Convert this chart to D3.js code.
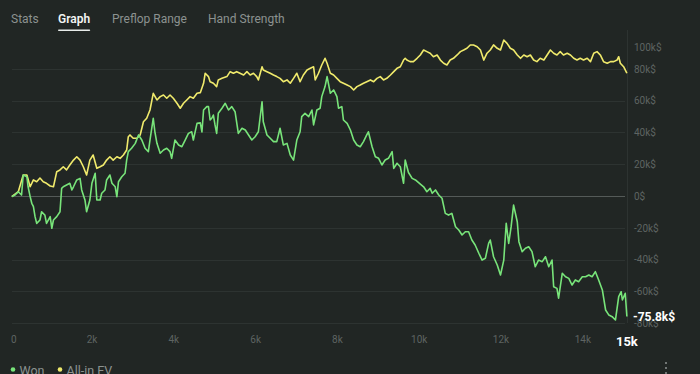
<!DOCTYPE html>
<html>
<head>
<meta charset="utf-8">
<script src="https://cdn.jsdelivr.net/npm/d3@7"></script>
<style>
  html, body { margin: 0; padding: 0; background: #212624; }
  svg { display: block; }
</style>
</head>
<body>
<svg id="chart" width="700" height="374"></svg>
<script>
// ---- data (hands in thousands, amounts in k$) ----
const tabs = ["Stats", "Graph", "Preflop Range", "Hand Strength"];
const activeTab = "Graph";
const xTicks = [0, 2, 4, 6, 8, 10, 12, 14];
const xTickLabels = ["0", "2k", "4k", "6k", "8k", "10k", "12k", "14k"];
const lastHandLabel = "15k";
const yTicks = [-80, -60, -40, -20, 0, 20, 40, 60, 80, 100];
const yTickLabels = ["-80k$", "-60k$", "-40k$", "-20k$", "0$", "20k$", "40k$", "60k$", "80k$", "100k$"];
const finalWonLabel = "-75.8k$";
const seriesNames = ["Won", "All-in EV"];

const evHands = [0.05,0.21,0.33,0.42,0.50,0.58,0.66,0.74,0.82,0.90,0.99,1.07,1.15,1.23,1.31,1.39,1.47,1.56,1.64,1.72,1.80,1.88,1.96,2.04,2.13,2.21,2.29,2.37,2.45,2.53,2.62,2.70,2.78,2.86,2.90,2.94,3.02,3.11,3.19,3.27,3.35,3.43,3.51,3.60,3.68,3.76,3.84,3.92,4.00,4.09,4.17,4.25,4.33,4.41,4.49,4.58,4.66,4.74,4.78,4.86,4.90,4.98,5.06,5.10,5.19,5.31,5.39,5.47,5.55,5.63,5.72,5.80,5.88,5.96,6.04,6.08,6.17,6.20,6.29,6.37,6.45,6.53,6.61,6.69,6.78,6.86,6.94,7.02,7.10,7.18,7.27,7.35,7.43,7.47,7.55,7.63,7.71,7.76,7.84,7.92,8.00,8.08,8.16,8.25,8.33,8.41,8.49,8.57,8.65,8.73,8.82,8.90,8.98,9.06,9.14,9.22,9.31,9.39,9.47,9.55,9.63,9.67,9.71,9.79,9.87,9.96,10.04,10.12,10.20,10.28,10.36,10.45,10.53,10.61,10.69,10.77,10.85,10.94,11.02,11.10,11.18,11.26,11.34,11.43,11.51,11.59,11.67,11.75,11.83,11.92,12.00,12.08,12.16,12.24,12.32,12.41,12.49,12.57,12.65,12.73,12.81,12.89,12.97,13.06,13.14,13.22,13.30,13.38,13.46,13.54,13.63,13.71,13.79,13.87,13.95,14.03,14.12,14.20,14.28,14.36,14.44,14.52,14.61,14.69,14.77,14.85,14.89,14.93,15.01,15.05,15.09];
const evValues = [-0.4,2.7,13.2,13.2,5.8,10.1,9.0,11.3,9.0,8.0,6.3,5.8,15.3,16.4,18.4,16.4,19.5,22.6,24.7,22.6,18.4,13.2,22.6,25.8,17.4,18.4,19.5,22.6,24.7,22.6,24.7,23.7,25.8,28.9,37.3,38.4,36.3,36.3,38.4,46.7,48.9,54.1,64.6,60.4,62.5,63.5,61.5,63.5,61.5,58.3,55.2,58.3,60.4,62.5,61.5,64.6,65.0,70.9,77.2,75.1,71.9,70.9,68.8,73.0,74.0,75.1,78.2,77.2,78.2,77.2,76.1,78.2,76.1,77.2,75.1,73.0,81.3,79.3,78.2,77.2,76.1,75.1,74.0,71.9,73.0,70.9,74.0,77.2,71.9,76.1,79.3,80.3,81.3,73.0,77.2,82.4,86.6,83.5,77.2,76.1,74.0,71.9,70.9,69.8,68.8,66.7,68.8,69.8,70.9,71.9,73.0,71.9,74.0,75.1,73.0,74.0,76.1,78.2,80.3,81.3,85.5,86.6,85.5,84.5,84.5,86.6,88.7,91.8,90.8,89.8,87.6,88.7,85.5,83.5,82.4,85.5,86.6,88.7,90.8,91.8,92.9,95.0,95.0,93.9,91.8,85.5,89.8,91.8,95.0,92.9,91.8,98.1,96.0,92.9,91.8,88.7,86.6,88.7,87.6,88.7,85.5,84.5,86.6,85.5,88.7,91.8,89.8,88.7,90.8,88.7,89.8,88.7,86.6,85.5,86.6,85.5,86.6,84.5,89.8,90.8,88.7,84.5,83.5,84.5,84.5,85.5,87.6,83.5,81.3,79.3,77.2];

const wonHands = [0.05,0.13,0.21,0.29,0.33,0.42,0.45,0.50,0.54,0.58,0.62,0.66,0.74,0.78,0.86,0.90,0.99,1.03,1.07,1.15,1.23,1.27,1.31,1.39,1.47,1.52,1.56,1.64,1.72,1.76,1.84,1.88,1.96,2.01,2.09,2.13,2.21,2.25,2.33,2.37,2.45,2.50,2.58,2.62,2.66,2.74,2.82,2.86,2.90,2.98,3.07,3.15,3.23,3.31,3.39,3.43,3.51,3.55,3.60,3.68,3.76,3.84,3.92,3.96,4.04,4.13,4.21,4.29,4.37,4.45,4.49,4.58,4.66,4.70,4.74,4.82,4.86,4.90,4.94,4.98,5.02,5.06,5.10,5.19,5.27,5.35,5.43,5.51,5.59,5.68,5.76,5.84,5.92,6.00,6.08,6.17,6.20,6.29,6.37,6.45,6.53,6.61,6.69,6.78,6.86,6.94,7.02,7.10,7.14,7.22,7.31,7.39,7.43,7.51,7.59,7.63,7.71,7.76,7.84,7.92,8.00,8.04,8.12,8.16,8.25,8.33,8.41,8.49,8.57,8.65,8.73,8.77,8.86,8.94,9.02,9.10,9.18,9.26,9.35,9.39,9.47,9.55,9.63,9.67,9.75,9.84,9.92,10.04,10.12,10.20,10.28,10.33,10.41,10.49,10.57,10.65,10.73,10.81,10.90,10.98,11.06,11.14,11.22,11.30,11.38,11.47,11.55,11.63,11.71,11.75,11.83,11.92,12.00,12.08,12.14,12.20,12.26,12.32,12.41,12.45,12.53,12.61,12.69,12.77,12.85,12.93,13.02,13.10,13.18,13.26,13.30,13.38,13.42,13.51,13.59,13.67,13.75,13.83,13.91,14.00,14.08,14.16,14.24,14.32,14.40,14.49,14.57,14.65,14.73,14.81,14.89,14.95,14.98,15.05,15.09];
const wonValues = [-0.4,0.6,2.7,0.6,13.2,12.1,5.8,-0.4,-4.6,-6.7,-13.0,-17.2,-15.1,-9.9,-12.0,-17.2,-13.0,-20.3,-15.1,-13.0,-9.9,4.8,5.8,6.9,8.0,3.8,5.8,10.1,11.1,3.8,-2.5,-9.9,-2.5,8.0,14.3,-2.5,-2.5,1.7,3.8,10.1,13.2,8.0,5.8,-0.4,9.0,12.1,14.3,22.6,27.9,30.0,33.1,38.4,35.2,30.0,27.9,35.2,48.9,40.4,33.1,26.9,28.9,30.0,27.9,23.7,35.2,32.1,31.0,35.2,39.4,40.4,35.2,45.7,46.0,40.3,54.1,56.2,56.2,47.8,48.9,50.9,44.7,39.4,52.0,55.2,58.3,54.1,56.2,53.0,39.4,42.6,41.5,38.4,35.2,37.3,40.4,59.3,46.7,38.4,36.3,34.2,34.2,42.6,32.1,33.1,25.8,22.6,35.2,40.4,49.9,52.0,49.9,54.1,44.7,54.1,55.2,62.5,68.8,75.1,64.6,66.7,62.5,55.2,56.2,47.8,45.7,41.5,35.2,32.1,31.0,34.2,38.4,40.4,31.0,24.7,23.7,19.5,22.6,23.7,27.9,17.4,20.6,18.4,8.0,22.6,14.8,11.1,10.1,7.5,5.8,2.7,4.8,1.7,3.8,0.6,-1.4,-10.9,-12.0,-10.9,-19.3,-21.4,-24.5,-22.5,-22.5,-27.7,-30.8,-36.0,-40.3,-39.2,-29.8,-27.7,-38.2,-43.4,-49.7,-40.3,-17.2,-29.8,-19.3,-5.7,-16.2,-28.7,-35.0,-32.9,-31.9,-35.0,-44.5,-40.3,-41.3,-38.2,-44.5,-40.3,-57.1,-58.1,-64.3,-48.6,-50.8,-51.8,-56.0,-52.8,-53.9,-50.8,-50.8,-49.7,-50.8,-47.6,-52.8,-59.1,-71.7,-74.9,-75.9,-78.0,-63.3,-60.2,-65.4,-61.2,-75.8];

// ---- drawing ----
const svg = d3.select("#chart");
const W = 700, H = 374;
const bg = "#212624";
svg.append("rect").attr("width", W).attr("height", H).attr("fill", bg);

const font = "Roboto, 'Noto Sans', sans-serif";

// tabs
const tabX = [11, 58, 112, 208];
const tabG = svg.append("g");
tabs.forEach((t, i) => {
  const isActive = t === activeTab;
  const txt = tabG.append("text")
    .attr("x", tabX[i]).attr("y", 23)
    .attr("font-family", font)
    .attr("font-size", 12)
    .attr("font-weight", isActive ? 600 : 400)
    .attr("fill", isActive ? "#f2f4f3" : "#8c9290")
    .text(t);
  if (isActive) {
    const w = txt.node().getComputedTextLength();
    tabG.append("rect").attr("x", tabX[i]).attr("y", 29.5)
      .attr("width", w).attr("height", 1.6).attr("rx", 0.8)
      .attr("fill", "#e8ecea");
  }
});

const x = d3.scaleLinear().domain([0, 15]).range([9.7, 623.2]);
const y = d3.scaleLinear().domain([-80, 100]).range([323.2, 37]);

// gridlines
const grid = svg.append("g");
yTicks.filter(v => v !== 100).forEach(v => {
  grid.append("line")
    .attr("x1", 12).attr("x2", 625)
    .attr("y1", Math.round(y(v)) + 0.5).attr("y2", Math.round(y(v)) + 0.5)
    .attr("stroke", v === 0 ? "#545a58" : "#2d3331")
    .attr("stroke-width", 1);
});
// right vertical line
grid.append("line")
  .attr("x1", 627.5).attr("x2", 627.5)
  .attr("y1", 30).attr("y2", 323)
  .attr("stroke", "#2d3331").attr("stroke-width", 1);

// y axis labels (right side)
const yAxis = d3.axisRight(y).tickValues(yTicks)
  .tickFormat((d, i) => yTickLabels[i]).tickSize(0).tickPadding(0);
const yg = svg.append("g").attr("transform", "translate(634,0)").call(yAxis);
yg.select(".domain").remove();
yg.selectAll("text")
  .attr("font-family", font).attr("font-size", 10)
  .attr("fill", "#5e6462")
  .attr("dy", "0.32em")
  .attr("y", d => Math.max(y(d), 47) - y(d));

// x axis labels
const xAxis = d3.axisBottom(x).tickValues(xTicks)
  .tickFormat((d, i) => xTickLabels[i]).tickSize(0).tickPadding(0);
const xg = svg.append("g").attr("transform", "translate(0,336)").call(xAxis);
xg.select(".domain").remove();
xg.selectAll("text")
  .attr("font-family", font).attr("font-size", 10)
  .attr("fill", "#5e6462").attr("dy", "0.71em").attr("y", 0)
  .attr("x", d => Math.max(x(d), 13.3) - x(d));

// lines
const line = d3.line().x(d => x(d[0])).y(d => y(d[1])).curve(d3.curveLinear);
const evData = evHands.map((h, i) => [h, evValues[i]]);
const wonData = wonHands.map((h, i) => [h, wonValues[i]]);
const green = "#78e47a", yellow = "#f0ea6c";

svg.append("path").datum(evData).attr("d", line)
  .attr("fill", "none").attr("stroke", yellow).attr("stroke-width", 1.6)
  .attr("stroke-linejoin", "round");
svg.append("path").datum(wonData).attr("d", line)
  .attr("fill", "none").attr("stroke", green).attr("stroke-width", 1.6)
  .attr("stroke-linejoin", "round");

// last hand label
const lastH = wonHands[wonHands.length - 1];
svg.append("text")
  .attr("x", x(lastH)).attr("y", 346)
  .attr("text-anchor", "middle")
  .attr("font-family", font).attr("font-size", 13).attr("font-weight", 700)
  .attr("fill", "#ffffff").text(lastHandLabel);

// final won value label
const lastV = wonValues[wonValues.length - 1];
svg.append("text")
  .attr("x", 633).attr("y", y(lastV)).attr("dy", "0.35em")
  .attr("font-family", font).attr("font-size", 12).attr("font-weight", 700)
  .attr("fill", "#ffffff").text(finalWonLabel);

// legend
const legendColors = [green, yellow];
const legendX = [13, 60];
seriesNames.forEach((n, i) => {
  svg.append("circle").attr("cx", legendX[i]).attr("cy", 369.5).attr("r", 2.3)
    .attr("fill", legendColors[i]);
  svg.append("text").attr("x", legendX[i] + 6.5).attr("y", 374.5)
    .attr("font-family", font).attr("font-size", 12.5)
    .attr("fill", "#8c9290").text(n);
});

// menu dots
[363, 368, 373].forEach(cy => {
  svg.append("circle").attr("cx", 666).attr("cy", cy).attr("r", 1)
    .attr("fill", "#8c9290");
});
</script>
</body>
</html>
